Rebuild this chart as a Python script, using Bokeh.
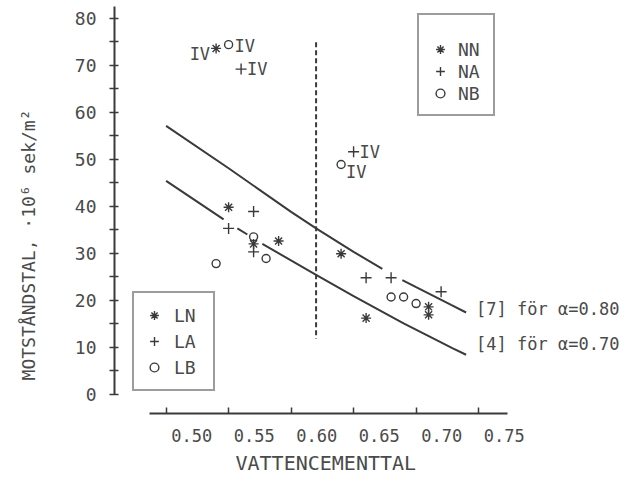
from bokeh.plotting import figure
from bokeh.models import Range1d, FixedTicker, Legend, LegendItem, Label, Title
from bokeh.core.properties import value
from bokeh.embed import file_html
from bokeh.resources import INLINE

nan = float("nan")

# ---- data ----
star_x = [0.55, 0.57, 0.59, 0.64, 0.66, 0.71, 0.71, 0.54]
star_y = [39.8, 32.0, 32.6, 29.9, 16.2, 18.6, 16.9, 73.6]
plus_x = [0.55, 0.57, 0.57, 0.66, 0.68, 0.72, 0.56, 0.65]
plus_y = [35.3, 38.9, 30.3, 24.8, 24.8, 21.8, 69.2, 51.6]
circ_x = [0.54, 0.57, 0.58, 0.68, 0.69, 0.70, 0.55, 0.64]
circ_y = [27.8, 33.5, 28.9, 20.7, 20.7, 19.3, 74.4, 48.9]

upper_x = [0.50, 0.55, 0.60, 0.62, 0.65, 0.673, nan, 0.689, 0.70, 0.728, 0.74]
upper_y = [57.1, 48.1, 38.8, 35.3, 30.3, 26.7, nan, 24.3, 22.8, 19.0, 17.4]
lower_x = [0.50, 0.546, nan, 0.557, 0.565, nan, 0.577, 0.62, 0.65, 0.69, 0.729, 0.74]
lower_y = [45.4, 37.2, nan, 35.3, 34.0, nan, 32.0, 25.4, 20.9, 15.1, 9.8, 8.4]
curve_labels = ["[7] för α=0.80", "[4] för α=0.70"]

limit_x = [0.62, 0.62]
limit_y = [74.9, 11.8]

iv_left_x = [0.55, 0.56, 0.65, 0.64]
iv_left_y = [74.4, 69.2, 51.6, 48.9]
iv_right_x = [0.54]
iv_right_y = [73.6]

x_ticks = [0.50, 0.55, 0.60, 0.65, 0.70, 0.75]
x_tick_labels = ["0.50", "0.55", "0.60", "0.65", "0.70", "0.75"]
y_ticks = [0, 10, 20, 30, 40, 50, 60, 70, 80]
y_minor = [5, 15, 25, 35, 45, 55, 65, 75]

LINE = "#3a3a3a"
TXT = "#4a4a4a"
MONO = "DejaVu Sans Mono"
NB = "\u00a0"

p = figure(width=622, height=474, x_range=Range1d(0.45872, 0.86512), y_range=Range1d(-4.1, 83.8),
           output_backend="svg", toolbar_location=None,
           min_border_left=114, min_border_right=0, min_border_top=0, min_border_bottom=58)
p.outline_line_color = None
p.xgrid.visible = False
p.ygrid.visible = False
p.background_fill_color = "white"
p.border_fill_color = "white"

# y axis
ya = p.yaxis[0]
ya.ticker = FixedTicker(ticks=y_ticks, minor_ticks=y_minor)
ya.bounds = (0, 82.5)
ya.axis_line_color = LINE
ya.axis_line_width = 2
ya.major_tick_line_color = LINE
ya.minor_tick_line_color = LINE
ya.major_tick_line_width = 1.5
ya.minor_tick_line_width = 1.5
ya.major_tick_in = 4
ya.major_tick_out = 5
ya.minor_tick_in = 4
ya.minor_tick_out = 5
ya.major_label_text_font = MONO
ya.major_label_text_font_size = "18px"
ya.major_label_text_color = TXT
ya.major_label_standoff = 13
ya.axis_label = "MOTSTÅNDSTAL, ·10⁶ sek/m²" + NB * 7
ya.axis_label_text_font = MONO
ya.axis_label_text_font_size = "18px"
ya.axis_label_text_font_style = "normal"
ya.axis_label_text_color = TXT
ya.axis_label_standoff = 33

# x axis
xa = p.xaxis[0]
xa.ticker = FixedTicker(ticks=x_ticks, minor_ticks=[])
xa.major_label_overrides = {t: NB * 5 + s for t, s in zip(x_ticks, x_tick_labels)}
xa.bounds = (0.4867, 0.7731)
xa.axis_line_color = LINE
xa.axis_line_width = 2
xa.major_tick_line_color = LINE
xa.major_tick_line_width = 1.5
xa.major_tick_in = 6
xa.major_tick_out = 0
xa.major_label_text_font = MONO
xa.major_label_text_font_size = "17px"
xa.major_label_text_color = TXT
xa.major_label_standoff = 12

xt = Title(text="VATTENCEMENTTAL", align="left", offset=121, standoff=0,
           text_font=MONO, text_font_size="20px", text_font_style="normal", text_color=TXT)
p.add_layout(xt, "below")

# curves and limit line
p.line(upper_x, upper_y, line_color=LINE, line_width=2)
p.line(lower_x, lower_y, line_color=LINE, line_width=2)
p.line(limit_x, limit_y, line_color=LINE, line_width=2, line_dash="5 3")

for cx, cy, txt, yoff in [(upper_x, upper_y, curve_labels[0], 3), (lower_x, lower_y, curve_labels[1], 11)]:
    p.add_layout(Label(x=cx[-1], y=cy[-1], text=txt, x_offset=10, y_offset=yoff,
                       text_font=MONO, text_font_size="17px", text_color=TXT,
                       text_align="left", text_baseline="middle"))

# points
r_star = p.scatter(star_x, star_y, marker="asterisk", size=10, line_color=LINE, line_width=1.4)
r_plus = p.scatter(plus_x, plus_y, marker="cross", size=11, line_color=LINE, line_width=1.4)
r_circ = p.scatter(circ_x, circ_y, marker="circle", size=8, line_color=LINE, line_width=1.4,
                   fill_color=None)

# IV labels
p.text(x=iv_left_x, y=iv_left_y, text=["IV"] * len(iv_left_x), x_offset=[6, 6, 6, 5],
       y_offset=[1, 0, 0, 8], text_font=value(MONO), text_font_size="17px", text_color=TXT,
       text_align="left", text_baseline="middle")
p.text(x=iv_right_x, y=iv_right_y, text=["IV"] * len(iv_right_x), x_offset=-6, y_offset=6,
       text_font=value(MONO), text_font_size="17px", text_color=TXT,
       text_align="right", text_baseline="middle")


def make_legend(labels, loc, pad, lh, gsize, lw, standoff, title=None):
    leg = Legend(items=[LegendItem(label=labels[0], renderers=[r_star]),
                        LegendItem(label=labels[1], renderers=[r_plus]),
                        LegendItem(label=labels[2], renderers=[r_circ])],
                 location=loc, padding=pad, spacing=0, margin=0,
                 label_height=lh, label_width=lw, glyph_width=gsize, glyph_height=gsize,
                 label_standoff=standoff,
                 label_text_font=MONO, label_text_font_size="18px", label_text_color=TXT,
                 border_line_color=LINE, border_line_width=2,
                 background_fill_color="white", background_fill_alpha=1.0)
    if title is not None:
        leg.title = title
        leg.title_text_font_size = "10px"
        leg.title_standoff = 2
    return leg


p.add_layout(make_legend(["LN", "LA", "LB"], (18, 22), 9, 26, 22, 30, 9), "center")
p.add_layout(make_legend(["NN", "NA", "NB"], (303, 297), 10, 21, 22, 25, 7, title=" "), "center")

open("out.html", "w").write(file_html(p, INLINE))
